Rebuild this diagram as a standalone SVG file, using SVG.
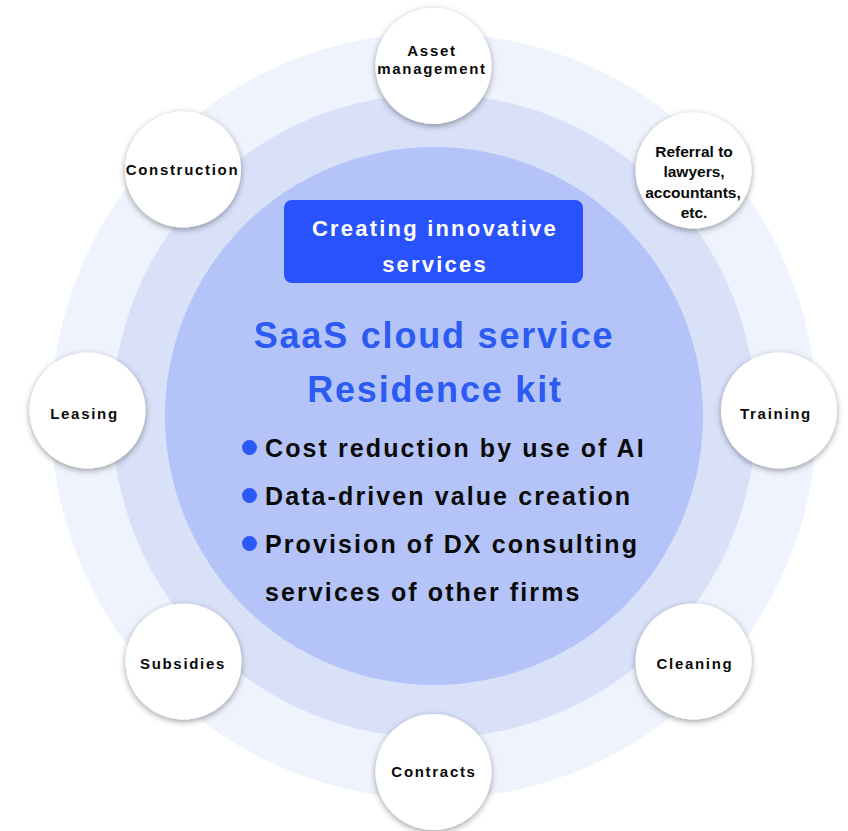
<svg xmlns="http://www.w3.org/2000/svg" width="848" height="831" viewBox="0 0 848 831">
  <defs>
    <filter id="shadow" x="-30%" y="-30%" width="160%" height="160%">
      <feDropShadow dx="0" dy="2" stdDeviation="3" flood-color="#000" flood-opacity="0.38"/>
    </filter>
    <style>
      .node circle { fill: #ffffff; filter: url(#shadow); }
      .lbl { font-family: "Liberation Sans", Arial, sans-serif; font-weight: bold; font-size: 15px; fill: #0a0a0a; text-anchor: middle; letter-spacing: 1.7px; }
      .lbl2 { font-family: "Liberation Sans", Arial, sans-serif; font-weight: bold; font-size: 15.5px; fill: #0a0a0a; text-anchor: middle; }
      .title { font-family: "Liberation Sans", Arial, sans-serif; font-weight: bold; font-size: 36px; fill: #2b5bf3; text-anchor: middle; letter-spacing: 1.8px; }
      .box { font-family: "Liberation Sans", Arial, sans-serif; font-weight: bold; font-size: 22px; fill: #ffffff; text-anchor: middle; letter-spacing: 2.2px; }
      .bul { font-family: "Liberation Sans", Arial, sans-serif; font-weight: bold; font-size: 25px; fill: #0a0a0a; letter-spacing: 2.1px; }
      .dot { fill: #2a5af5; }
    </style>
  </defs>
  <rect width="848" height="831" fill="#ffffff"/>
  <g id="rings">
    <circle cx="434" cy="416" r="383" fill="#eff3fd"/>
    <circle cx="434" cy="416" r="322" fill="#d9e1f9"/>
    <circle cx="434" cy="416" r="269" fill="#b4c4f8"/>
  </g>
  <g id="center">
    <rect x="284" y="200" width="299" height="83" rx="8" fill="#2852fb"/>
    <text class="box" x="435" y="236">Creating innovative</text>
    <text class="box" x="435" y="272">services</text>
    <text class="title" x="434" y="348">SaaS cloud service</text>
    <text class="title" x="435" y="401.5">Residence kit</text>
    <circle class="dot" cx="249.5" cy="447.5" r="7.5"/>
    <text class="bul" x="265" y="456.5">Cost reduction by use of AI</text>
    <circle class="dot" cx="249.5" cy="495.5" r="7.5"/>
    <text class="bul" x="265" y="504.5">Data-driven value creation</text>
    <circle class="dot" cx="249.5" cy="543.5" r="7.5"/>
    <text class="bul" x="265" y="552.5">Provision of DX consulting</text>
    <text class="bul" x="265" y="600.5">services of other firms</text>
  </g>
  <g id="connectors"/>
  <g id="node-asset" class="node">
    <circle cx="433.5" cy="66" r="58"/>
    <text class="lbl" x="432" y="56">Asset</text>
    <text class="lbl" x="432" y="73.5">management</text>
  </g>
  <g id="node-referral" class="node">
    <circle cx="693.5" cy="170.5" r="58"/>
    <text class="lbl2" x="694" y="157">Referral to</text>
    <text class="lbl2" x="694" y="177.3">lawyers,</text>
    <text class="lbl2" x="693" y="197.6">accountants,</text>
    <text class="lbl2" x="694" y="218">etc.</text>
  </g>
  <g id="node-training" class="node">
    <circle cx="779" cy="410.5" r="58"/>
    <text class="lbl" x="776" y="418.5">Training</text>
  </g>
  <g id="node-cleaning" class="node">
    <circle cx="693.5" cy="661.5" r="58"/>
    <text class="lbl" x="695" y="669">Cleaning</text>
  </g>
  <g id="node-contracts" class="node">
    <circle cx="433.5" cy="772" r="58"/>
    <text class="lbl" x="434" y="777">Contracts</text>
  </g>
  <g id="node-subsidies" class="node">
    <circle cx="183.5" cy="661.5" r="58"/>
    <text class="lbl" x="183" y="669">Subsidies</text>
  </g>
  <g id="node-leasing" class="node">
    <circle cx="87.5" cy="410.5" r="58"/>
    <text class="lbl" x="84.5" y="418.5">Leasing</text>
  </g>
  <g id="node-construction" class="node">
    <circle cx="183" cy="169.5" r="58"/>
    <text class="lbl" x="182.5" y="175">Construction</text>
  </g>
</svg>
